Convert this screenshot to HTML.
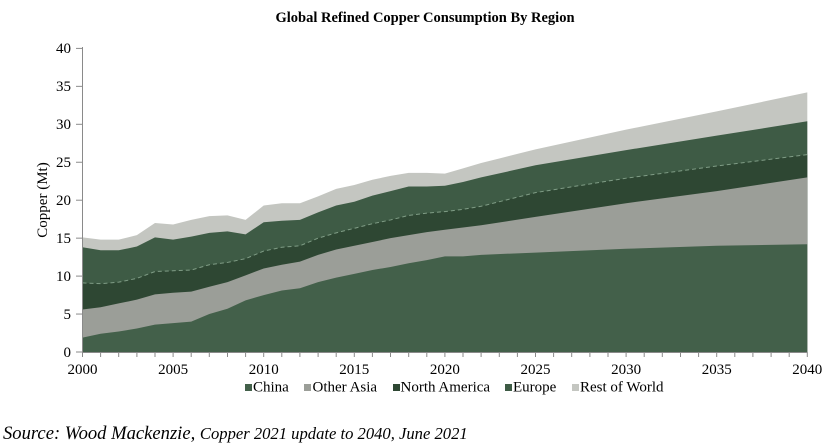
<!DOCTYPE html>
<html>
<head>
<meta charset="utf-8">
<style>
  html, body { margin: 0; padding: 0; background: #ffffff; }
  body { width: 828px; height: 447px; overflow: hidden; position: relative; }
  svg { position: absolute; left: 0; top: 0; }
  text { font-family: "Liberation Serif", "DejaVu Serif", serif; fill: #000; }
</style>
</head>
<body>
<svg width="828" height="447" viewBox="0 0 828 447" xmlns="http://www.w3.org/2000/svg">
  <!-- Title -->
  <text x="425" y="22" font-size="14.5" font-weight="bold" text-anchor="middle">Global Refined Copper Consumption By Region</text>

  <!-- Stacked areas -->
  <g transform="translate(82.5 352) scale(18.12 -7.59)">
    <polygon fill="#c4c6c1" points="0,15.1 1,14.8 2,14.8 3,15.4 4,17.0 5,16.8 6,17.4 7,17.9 8,18.0 9,17.4 10,19.3 11,19.6 12,19.6 13,20.5 14,21.5 15,22.0 16,22.7 17,23.2 18,23.6 19,23.6 20,23.5 21,24.2 22,24.9 23,25.5 24,26.1 25,26.7 30,29.3 35,31.7 40,34.2 40,0 0,0"/>
    <polygon fill="#3e5b45" points="0,13.8 1,13.4 2,13.4 3,13.9 4,15.1 5,14.8 6,15.2 7,15.7 8,15.9 9,15.5 10,17.1 11,17.3 12,17.4 13,18.4 14,19.3 15,19.8 16,20.6 17,21.2 18,21.8 19,21.8 20,21.9 21,22.4 22,23.0 25,24.6 30,26.6 35,28.5 40,30.4 40,0 0,0"/>
    <polygon fill="#2e4733" points="0,9.1 1,9.0 2,9.2 3,9.7 4,10.6 5,10.7 6,10.8 7,11.5 8,11.8 9,12.3 10,13.3 11,13.8 12,14.0 13,15.0 14,15.7 15,16.3 16,16.9 17,17.4 18,18.0 19,18.3 20,18.5 21,18.8 22,19.2 25,21.0 30,22.9 35,24.5 40,26.0 40,0 0,0"/>
    <polyline fill="none" stroke="#7f9c85" stroke-width="1" stroke-dasharray="4 3" vector-effect="non-scaling-stroke" points="0,9.1 1,9.0 2,9.2 3,9.7 4,10.6 5,10.7 6,10.8 7,11.5 8,11.8 9,12.3 10,13.3 11,13.8 12,14.0 13,15.0 14,15.7 15,16.3 16,16.9 17,17.4 18,18.0 19,18.3 20,18.5 21,18.8 22,19.2 25,21.0 30,22.9 35,24.5 40,26.0"/>
    <polygon fill="#9b9e98" points="0,5.6 1,5.9 2,6.4 3,6.9 4,7.6 5,7.8 6,7.95 7,8.6 8,9.2 9,10.1 10,11.0 11,11.5 12,11.9 13,12.8 14,13.5 15,14.0 16,14.5 17,15.0 18,15.4 19,15.8 20,16.1 21,16.4 22,16.7 25,17.8 30,19.6 35,21.2 40,23.0 40,0 0,0"/>
    <polygon fill="#43604a" points="0,1.9 1,2.4 2,2.7 3,3.1 4,3.6 5,3.8 6,4.0 7,5.0 8,5.7 9,6.8 10,7.5 11,8.1 12,8.4 13,9.2 14,9.8 15,10.3 16,10.8 17,11.2 18,11.7 19,12.1 20,12.6 21,12.6 22,12.8 25,13.1 30,13.6 35,14.0 40,14.2 40,0 0,0"/>
  </g>

  <!-- Axes -->
  <g stroke="#8a8a8a" stroke-width="1" fill="none">
    <line x1="82.5" y1="47" x2="82.5" y2="352.5"/>
    <line x1="82.5" y1="352.5" x2="807.5" y2="352.5"/>
    <line x1="76" y1="352" x2="82.5" y2="352"/>
    <line x1="76" y1="314.05" x2="82.5" y2="314.05"/>
    <line x1="76" y1="276.1" x2="82.5" y2="276.1"/>
    <line x1="76" y1="238.15" x2="82.5" y2="238.15"/>
    <line x1="76" y1="200.2" x2="82.5" y2="200.2"/>
    <line x1="76" y1="162.25" x2="82.5" y2="162.25"/>
    <line x1="76" y1="124.3" x2="82.5" y2="124.3"/>
    <line x1="76" y1="86.35" x2="82.5" y2="86.35"/>
    <line x1="76" y1="48.4" x2="82.5" y2="48.4"/>
  </g>
  <g stroke="#8a8a8a" stroke-width="1">
    <path d="M82.5 352v5 M100.6 352v5 M118.7 352v5 M136.9 352v5 M155 352v5 M173.1 352v5 M191.2 352v5 M209.3 352v5 M227.5 352v5 M245.6 352v5 M263.7 352v5 M281.8 352v5 M299.9 352v5 M318.1 352v5 M336.2 352v5 M354.3 352v5 M372.4 352v5 M390.5 352v5 M408.7 352v5 M426.8 352v5 M444.9 352v5 M463 352v5 M481.1 352v5 M499.3 352v5 M517.4 352v5 M535.5 352v5 M553.6 352v5 M571.7 352v5 M589.9 352v5 M608 352v5 M626.1 352v5 M644.2 352v5 M662.3 352v5 M680.5 352v5 M698.6 352v5 M716.7 352v5 M734.8 352v5 M752.9 352v5 M771.1 352v5 M789.2 352v5 M807.3 352v5"/>
  </g>

  <!-- Y tick labels -->
  <g font-size="15" text-anchor="end">
    <text x="71" y="357">0</text>
    <text x="71" y="319">5</text>
    <text x="71" y="281">10</text>
    <text x="71" y="243">15</text>
    <text x="71" y="205">20</text>
    <text x="71" y="167">25</text>
    <text x="71" y="129">30</text>
    <text x="71" y="91">35</text>
    <text x="71" y="53">40</text>
  </g>

  <!-- X tick labels -->
  <g font-size="15" text-anchor="middle">
    <text x="82.5" y="374">2000</text>
    <text x="173.1" y="374">2005</text>
    <text x="263.7" y="374">2010</text>
    <text x="354.3" y="374">2015</text>
    <text x="444.9" y="374">2020</text>
    <text x="535.5" y="374">2025</text>
    <text x="626.1" y="374">2030</text>
    <text x="716.7" y="374">2035</text>
    <text x="807.3" y="374">2040</text>
  </g>

  <!-- Y axis title -->
  <text x="0" y="0" font-size="15" text-anchor="middle" transform="translate(47 200) rotate(-90)">Copper (Mt)</text>

  <!-- Legend -->
  <g font-size="15">
    <rect x="245" y="384" width="7" height="7" fill="#43604a"/>
    <text x="253" y="391.5">China</text>
    <rect x="304" y="384" width="7" height="7" fill="#9b9e98"/>
    <text x="312.5" y="391.5">Other Asia</text>
    <rect x="393" y="384" width="7" height="7" fill="#2e4733"/>
    <text x="400.5" y="391.5">North America</text>
    <rect x="505" y="384" width="7" height="7" fill="#3e5b45"/>
    <text x="513" y="391.5">Europe</text>
    <rect x="572" y="384" width="7" height="7" fill="#c4c6c1"/>
    <text x="580" y="391.5">Rest of World</text>
  </g>

  <!-- Source -->
  <text x="3" y="439" font-style="italic"><tspan font-size="18.6">Source: Wood Mackenzie, </tspan><tspan font-size="16.6">Copper 2021 update to 2040, June 2021</tspan></text>
</svg>
</body>
</html>
